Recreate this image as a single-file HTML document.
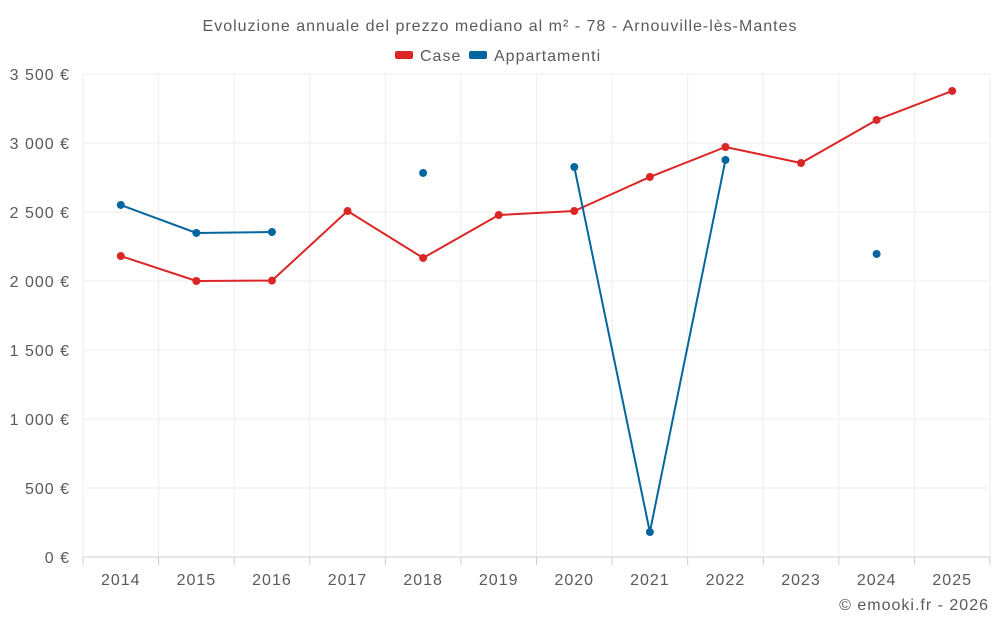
<!DOCTYPE html>
<html><head><meta charset="utf-8"><style>
body{margin:0;background:#fff;font-family:"Liberation Sans",sans-serif;}
svg text{font-family:"Liberation Sans",sans-serif;fill:#5a5a5a;letter-spacing:1px;}
</style></head><body>
<svg id="chart" width="1000" height="625">
<text x="500" y="31" text-anchor="middle" font-size="16">Evoluzione annuale del prezzo mediano al m² - 78 - Arnouville-lès-Mantes</text>
<g><rect x="395" y="51" width="18" height="8" rx="2" fill="#dc2626"/><text x="420" y="61" font-size="16">Case</text></g>
<g><rect x="469" y="51" width="18" height="8" rx="2" fill="#04669e"/><text x="494" y="61" font-size="16">Appartamenti</text></g>
<g id="grid"></g><g id="axes"></g><g id="series"></g>
<text x="989" y="610" text-anchor="end" font-size="16">© emooki.fr - 2026</text>
</svg>
<script>
const years=[2014,2015,2016,2017,2018,2019,2020,2021,2022,2023,2024,2025];
const caseValues=[2181,2000,2003,2507,2167,2478,2507,2754,2971,2855,3167,3377];
const aptValues=[2551,2348,2355,null,2783,null,2826,181,2877,null,2196,null];
const yTicks=[0,500,1000,1500,2000,2500,3000,3500];
const yLabels=["0 €","500 €","1 000 €","1 500 €","2 000 €","2 500 €","3 000 €","3 500 €"];
const L=83,R=990,T=74,B=557,ymax=3500;
const bw=(R-L)/years.length;
const x=i=>L+bw*(i+0.5);
const y=v=>B-(v/ymax)*(B-T);
const NS="http://www.w3.org/2000/svg";
function mk(tag,attrs,parent){const e=document.createElementNS(NS,tag);for(const k in attrs)e.setAttribute(k,attrs[k]);document.getElementById(parent).appendChild(e);return e;}
yTicks.forEach((t,i)=>{
 const g=mk('line',{x1:L,x2:R,y1:y(t),y2:y(t),stroke:i===0?'#ccc':'#eee','stroke-width':1},'grid');
 
 
 const tx=mk('text',{x:70,y:y(t)+6,'text-anchor':'end','font-size':16,'letter-spacing':'0.8px'},'axes');
 tx.textContent=yLabels[i];
 
 
});
for(let i=0;i<=years.length;i++){
 const g=mk('line',{x1:L+bw*i,x2:L+bw*i,y1:T,y2:B,stroke:'#eee'},'grid');
 
 
 const tk=mk('line',{x1:L+bw*i,x2:L+bw*i,y1:B,y2:B+8,stroke:'#ccc'},'axes');
 
 
}
years.forEach((yr,i)=>{
 const tx=mk('text',{x:x(i),y:585,'text-anchor':'middle','font-size':16},'axes');
 tx.textContent=yr;
 
 
});
function draw(vals,color,name){
 let segs=[],cur=[];
 vals.forEach((v,i)=>{if(v==null){if(cur.length)segs.push(cur);cur=[];}else cur.push([x(i),y(v)]);});
 if(cur.length)segs.push(cur);
 segs.forEach(s=>{if(s.length>1){
  const p=mk('polyline',{points:s.map(q=>q.join(',')).join(' '),fill:'none',stroke:color,'stroke-width':2},'series');
  
  
 }});
 vals.forEach((v,i)=>{if(v==null)return;
  const c=mk('circle',{cx:x(i),cy:y(v),r:4,fill:color},'series');
  
  
 });
}
draw(caseValues,'#dc2626','case');
draw(aptValues,'#04669e','appartamenti');
</script>
</body></html>
